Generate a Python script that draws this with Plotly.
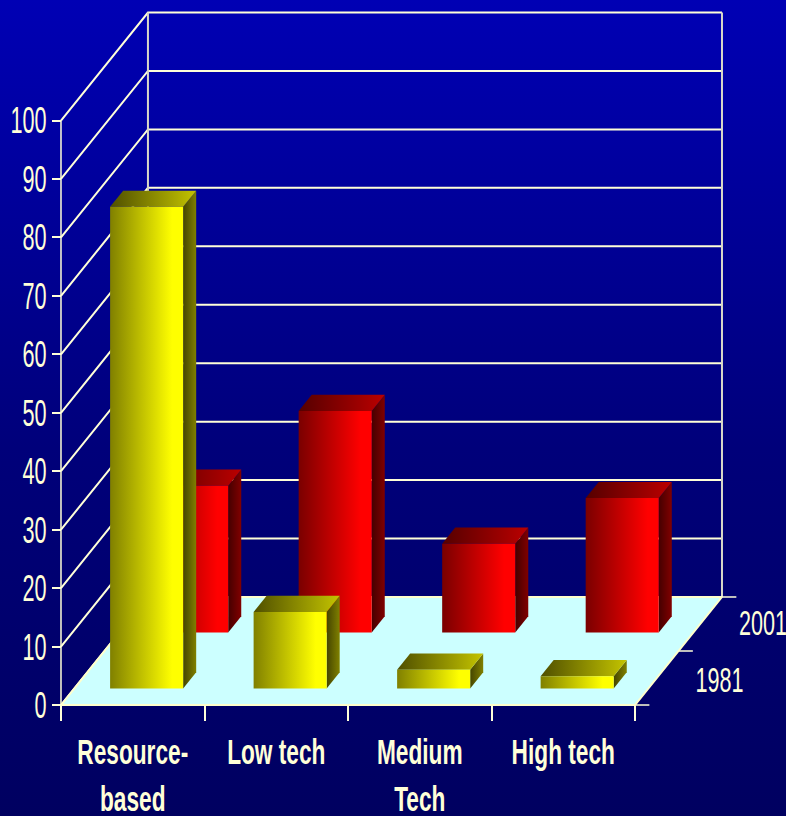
import plotly.graph_objects as go

categories = ["Resource-<br>based", "Low tech", "Medium<br>Tech", "High tech"]
series_names = ["1981", "2001"]
values_1981 = [82.4, 13.1, 3.2, 2.1]
values_2001 = [25.1, 37.9, 15.2, 23.0]
y_ticks = [0, 10, 20, 30, 40, 50, 60, 70, 80, 90, 100]

# Oblique projection of the 3-D chart on to the 2-D axes
DX, DY = 0.606, 18.48
X_RANGE = [-0.425, 5.052]
Y_RANGE = [-18.99, 120.62]
BAR_W = 0.509
BAR_D = 0.15
BAR_SHIFT = 0.004
SERIES_D = {"1981": 0.153, "2001": 0.671}
CREAM = "#ffffd8"


def P(c, v, d):
    return c + d * DX, v + d * DY


fig = go.Figure()


def line(points, color=CREAM, width=2):
    xs, ys = zip(*points)
    fig.add_trace(go.Scatter(x=xs, y=ys, mode="lines", line=dict(color=color, width=width),
                             hoverinfo="skip", showlegend=False))


def poly(points, stops=None, color=None):
    xs, ys = zip(*(list(points) + [points[0]]))
    kw = dict(fillgradient=dict(type="horizontal", colorscale=stops)) if stops else dict(fillcolor=color)
    fig.add_trace(go.Scatter(x=xs, y=ys, mode="lines", fill="toself",
                             line=dict(width=0, color="rgba(0,0,0,0)"),
                             hoverinfo="skip", showlegend=False, **kw))


# background
bx = [X_RANGE[0], X_RANGE[1], X_RANGE[1], X_RANGE[0], X_RANGE[0]]
by = [Y_RANGE[0], Y_RANGE[0], Y_RANGE[1], Y_RANGE[1], Y_RANGE[0]]
fig.add_trace(go.Scatter(x=bx, y=by, mode="lines", fill="toself", line=dict(width=0),
                         fillgradient=dict(type="vertical",
                                           colorscale=[[0, "#000060"], [0.45, "#00007a"], [1, "#0000b4"]]),
                         hoverinfo="skip", showlegend=False))

n = len(categories)
# walls
for v in y_ticks:
    line([P(0, v, 0), P(0, v, 1), P(n, v, 1)], CREAM, 2)
line([P(0, 0, 0), P(0, 100, 0)], CREAM, 1.5)
line([P(0, 0, 1), P(0, 100, 1)], "#d8d8c8", 2)
line([P(n, 0, 1), P(n, 100, 1)], "#d8d8c8", 2)

# floor
poly([P(0, 0, 0), P(n, 0, 0), P(n, 0, 1), P(0, 0, 1)], color="#ccffff")
line([P(0, 0, 0), P(n, 0, 0), P(n, 0, 1), P(0, 0, 1), P(0, 0, 0)], "#ffffcc", 2)

# depth ticks
for d in (0, 0.5, 1):
    a = P(n, 0, d)
    line([a, (a[0] + 0.1, a[1])], CREAM, 1.5)

YELLOW = dict(front=[[0, "#808000"], [0.85, "#ffff00"], [1, "#ffff00"]],
              top=[[0, "#4f4f00"], [1, "#c4c400"]],
              side=[[0, "#454500"], [1, "#808000"]])
RED = dict(front=[[0, "#7a0000"], [0.85, "#ff0000"], [1, "#ff0000"]],
           top=[[0, "#550000"], [1, "#bb0000"]],
           side=[[0, "#450000"], [1, "#800000"]])


def bar(i, val, d0, col):
    c0 = i + 0.5 + BAR_SHIFT - BAR_W / 2
    c1 = i + 0.5 + BAR_SHIFT + BAR_W / 2
    d1 = d0 + BAR_D
    poly([P(c1, 0, d0), P(c1, 0, d1), P(c1, val, d1), P(c1, val, d0)], col["side"])
    poly([P(c0, val, d0), P(c1, val, d0), P(c1, val, d1), P(c0, val, d1)], col["top"])
    poly([P(c0, 0, d0), P(c1, 0, d0), P(c1, val, d0), P(c0, val, d0)], col["front"])


for i, v in enumerate(values_2001):
    bar(i, v, SERIES_D["2001"], RED)
for i, v in enumerate(values_1981):
    bar(i, v, SERIES_D["1981"], YELLOW)

# series labels
for name, d, nudge in zip(series_names, (0.25, 0.75), (-0.8, -0.35)):
    x, y = P(n, 0, d)
    fig.add_trace(go.Scatter(x=[x + 0.27], y=[y + nudge], mode="text", text=[name], textposition="middle right",
                             textfont=dict(family="Liberation Sans", size=36, color=CREAM),
                             hoverinfo="skip", showlegend=False, cliponaxis=False))

fig.update_layout(
    width=786, height=816, margin=dict(l=0, r=0, t=0, b=0, autoexpand=False),
    paper_bgcolor="#000060", plot_bgcolor="#000060", showlegend=False,
    xaxis=dict(range=X_RANGE, anchor="free", position=111 / 816, side="bottom", automargin=False,
               tickmode="array", tickvals=[i + 0.5 for i in range(n)], ticktext=categories,
               ticks="", showgrid=False, zeroline=False, showline=False,
               ticklabelstandoff=22,
               tickfont=dict(family="Liberation Sans", size=36, color=CREAM, weight="bold"),
               tickangle=0,
               minor=dict(tickvals=list(range(n + 1)), ticks="outside", ticklen=15, tickwidth=1.5,
                          tickcolor=CREAM, showgrid=False)),
    yaxis=dict(range=Y_RANGE, anchor="free", position=61 / 786, side="left", automargin=False,
               tickmode="array", tickvals=y_ticks, ticks="outside", ticklen=9, tickwidth=1.5,
               tickcolor=CREAM, showgrid=False, zeroline=False, showline=False,
               tickfont=dict(family="Liberation Sans", size=37, color=CREAM)),
)

post = """
document.body.style.margin = '0';
document.body.style.overflow = 'hidden';
function squeeze(sel, s, dx) {
  document.querySelectorAll(sel).forEach(function (el) {
    var x = parseFloat(el.getAttribute('x')) || 0, y = parseFloat(el.getAttribute('y')) || 0;
    var old = el.getAttribute('transform') || '';
    el.setAttribute('transform', old + ' translate(' + (x + dx) + ',' + y + ') scale(' + s + ',1) translate(' + (-x) + ',' + (-y) + ')');
  });
}
squeeze('.xtick text', 0.63, 0);
squeeze('.ytick text', 0.585, 2);
squeeze('.textpoint text', 0.6, 0);
"""
fig.write_html("out.html", post_script=post, config=dict(displayModeBar=False))
